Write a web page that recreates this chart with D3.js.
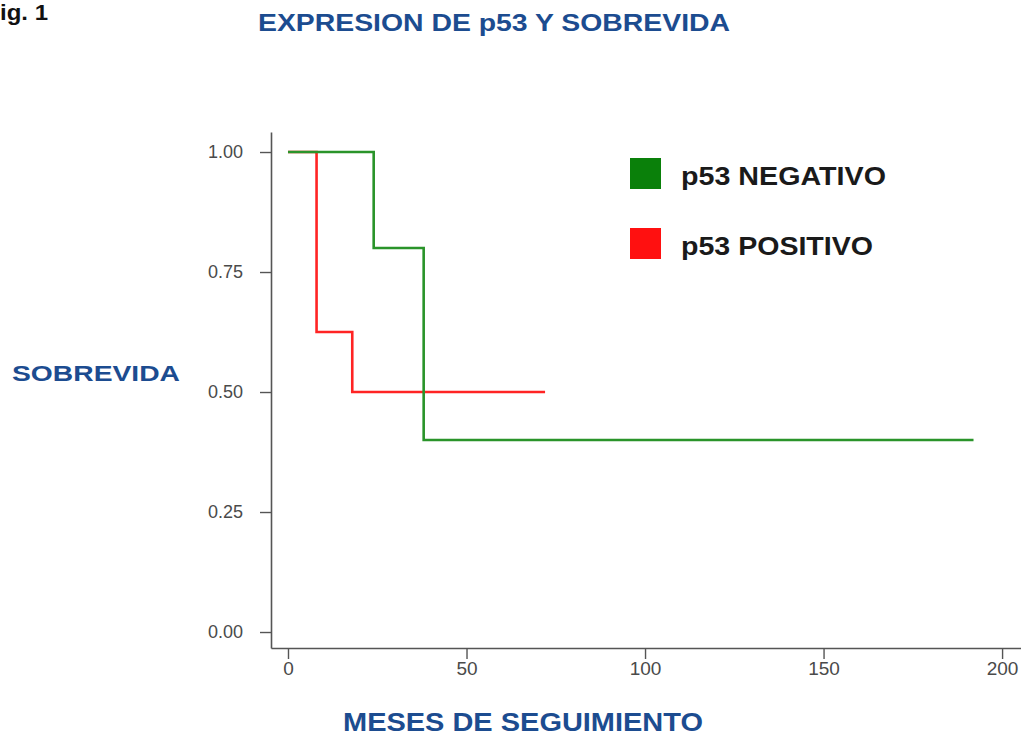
<!DOCTYPE html>
<html>
<head>
<meta charset="utf-8">
<script src="https://cdn.jsdelivr.net/npm/d3@7"></script>
<style>
  html, body { margin: 0; padding: 0; background: #fff; }
  svg { display: block; }
  .tick text { font-family: "Liberation Sans Narrow", "Liberation Sans", Arial, sans-serif; fill: #4a4a4a; }
</style>
</head>
<body>
<svg id="chart" width="1021" height="751"></svg>
<script>
// Kaplan-Meier survival steps (months of follow-up, survival proportion)
const negTimes = [0, 24, 38, 192];
const negSurv  = [1.0, 0.8, 0.4, 0.4];
const posTimes = [0, 8, 18, 72];
const posSurv  = [1.0, 0.625, 0.5, 0.5];

const groupNames = ["p53 NEGATIVO", "p53 POSITIVO"];
const groupColors = ["#2a942a", "#ff2424"];
const legendColors = ["#0a800a", "#ff1010"];

const xTicks = [0, 50, 100, 150, 200];
const yTicks = [0, 0.25, 0.5, 0.75, 1.0];

const svg = d3.select("#chart");
const blue = "#1c4c90";

// Scales: axis lines run a little beyond the 0 and 200 / 0 and 1 ticks
const x = d3.scaleLinear().domain([-4.76, 205.3]).range([271, 1021]);
const y = d3.scaleLinear().domain([-0.0333, 1.0417]).range([648, 132]);

// X axis
const xAxis = svg.append("g")
  .attr("transform", `translate(0,${y(-0.0333)})`)
  .call(d3.axisBottom(x).tickValues(xTicks).tickFormat(d3.format("d")).tickSize(11).tickSizeOuter(0).tickPadding(3));
xAxis.select(".domain").attr("stroke", "#555").attr("stroke-width", 1.6);
xAxis.selectAll(".tick line").attr("stroke", "#555").attr("stroke-width", 1.4);
xAxis.selectAll(".tick text").attr("font-size", 19);

// Y axis
const yAxis = svg.append("g")
  .attr("transform", `translate(${x(-4.76)},0)`)
  .call(d3.axisLeft(y).tickValues(yTicks).tickFormat(d3.format(".2f")).tickSize(11).tickSizeOuter(0).tickPadding(17));
yAxis.select(".domain").attr("stroke", "#555").attr("stroke-width", 1.6);
yAxis.selectAll(".tick line").attr("stroke", "#555").attr("stroke-width", 1.4);
yAxis.selectAll(".tick text").attr("font-size", 18);

// Survival curves
const line = d3.line().curve(d3.curveStepAfter).x(d => x(d[0])).y(d => y(d[1]));
const series = [
  { times: posTimes, surv: posSurv, color: groupColors[1] },
  { times: negTimes, surv: negSurv, color: groupColors[0] }
];
series.forEach(s => {
  svg.append("path")
    .datum(d3.zip(s.times, s.surv))
    .attr("fill", "none")
    .attr("stroke", s.color)
    .attr("stroke-width", 2.6)
    .attr("d", line);
});

// Legend
const legendWidths = [205, 192];
const legend = svg.append("g").attr("transform", "translate(630,158)");
groupNames.forEach((name, i) => {
  const g = legend.append("g").attr("transform", `translate(0,${i * 70})`);
  g.append("rect").attr("width", 31).attr("height", 31).attr("fill", legendColors[i]);
  g.append("text")
    .attr("x", 51).attr("y", 27)
    .attr("font-family", "Liberation Sans, Arial, sans-serif")
    .attr("font-weight", "bold")
    .attr("font-size", 25)
    .attr("fill", "#1a1a1a")
    .attr("textLength", legendWidths[i]).attr("lengthAdjust", "spacingAndGlyphs")
    .text(name);
});

// Titles
svg.append("text")
  .attr("x", 0).attr("y", 20)
  .attr("font-family", "Liberation Sans, Arial, sans-serif")
  .attr("font-weight", "bold").attr("font-size", 22).attr("fill", "#111")
  .attr("textLength", 48).attr("lengthAdjust", "spacingAndGlyphs")
  .text("ig. 1");

svg.append("text")
  .attr("x", 258).attr("y", 31)
  .attr("font-family", "Liberation Sans, Arial, sans-serif")
  .attr("font-weight", "bold").attr("font-size", 24).attr("fill", blue)
  .attr("textLength", 472).attr("lengthAdjust", "spacingAndGlyphs")
  .text("EXPRESION DE p53 Y SOBREVIDA");

svg.append("text")
  .attr("x", 12).attr("y", 381)
  .attr("font-family", "Liberation Sans, Arial, sans-serif")
  .attr("font-weight", "bold").attr("font-size", 22).attr("fill", blue)
  .attr("textLength", 168).attr("lengthAdjust", "spacingAndGlyphs")
  .text("SOBREVIDA");

svg.append("text")
  .attr("x", 343).attr("y", 731)
  .attr("font-family", "Liberation Sans, Arial, sans-serif")
  .attr("font-weight", "bold").attr("font-size", 25).attr("fill", blue)
  .attr("textLength", 360).attr("lengthAdjust", "spacingAndGlyphs")
  .text("MESES DE SEGUIMIENTO");
</script>
</body>
</html>
